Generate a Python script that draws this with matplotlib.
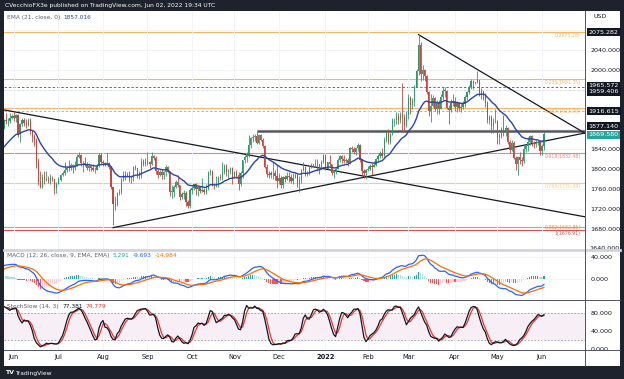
import numpy as np
import pandas as pd
import matplotlib
matplotlib.use("Agg")
import matplotlib.pyplot as plt
from matplotlib.patches import Rectangle
from matplotlib.lines import Line2D

# XAU/USD daily bars, 2021-05-03 .. 2022-06-02 (weekdays)
first_open = 1769
closes = [
    # May 2021
    1792, 1779, 1784, 1815, 1831, 1836, 1836, 1815, 1826, 1843, 1867, 1869, 1881, 1877, 1881, 1882, 1898, 1896, 1896, 1903, 1906,
    # Jun
    1903, 1908, 1871, 1891, 1899, 1893, 1888, 1898, 1877, 1866, 1858, 1812, 1773, 1764, 1783, 1778, 1779, 1776, 1781, 1779, 1761, 1770,
    # Jul
    1777, 1787, 1792, 1797, 1803, 1803, 1808, 1806, 1808, 1825, 1829, 1812, 1812, 1810, 1803, 1806, 1802, 1798, 1799, 1806, 1829, 1814,
    # Aug
    1813, 1810, 1812, 1804, 1763, 1729, 1728, 1752, 1753, 1779, 1787, 1786, 1787, 1781, 1781, 1805, 1802, 1790, 1792, 1817, 1810, 1814,
    # Sep
    1815, 1810, 1827, 1823, 1795, 1788, 1794, 1788, 1793, 1804, 1794, 1754, 1754, 1764, 1774, 1768, 1743, 1750, 1751, 1734, 1726, 1757,
    # Oct
    1761, 1769, 1760, 1763, 1756, 1757, 1754, 1760, 1793, 1796, 1768, 1765, 1769, 1783, 1782, 1793, 1806, 1793, 1798, 1802, 1783,
    # Nov
    1793, 1787, 1769, 1791, 1818, 1824, 1831, 1849, 1862, 1865, 1866, 1852, 1869, 1858, 1846, 1805, 1789, 1788, 1791, 1792, 1785, 1775,
    # Dec
    1781, 1768, 1783, 1779, 1785, 1783, 1775, 1782, 1787, 1771, 1777, 1799, 1804, 1791, 1789, 1803, 1809, 1809, 1811, 1810, 1805, 1815, 1829,
    # Jan 2022
    1801, 1814, 1810, 1791, 1797, 1801, 1818, 1826, 1821, 1817, 1819, 1812, 1842, 1840, 1835, 1843, 1849, 1819, 1796, 1791, 1797,
    # Feb
    1801, 1807, 1805, 1808, 1820, 1826, 1833, 1827, 1859, 1872, 1854, 1870, 1898, 1898, 1906, 1898, 1910, 1904, 1889, 1909,
    # Mar
    1943, 1928, 1936, 1966, 1998, 2050, 1992, 2000, 1988, 1954, 1917, 1927, 1943, 1921, 1935, 1921, 1944, 1958, 1958, 1923, 1919, 1933, 1937,
    # Apr
    1925, 1932, 1923, 1925, 1931, 1945, 1954, 1966, 1978, 1973, 1975, 1979, 1950, 1957, 1950, 1932, 1898, 1904, 1886, 1894, 1897,
    # May
    1864, 1867, 1881, 1877, 1883, 1855, 1839, 1852, 1822, 1811, 1825, 1818, 1816, 1841, 1846, 1854, 1866, 1853, 1851, 1853, 1855, 1837,
    # Jun
    1847, 1869.58,
]
highs = [
    1798, 1799, 1788, 1818, 1843, 1845, 1843, 1838, 1828, 1845, 1868, 1873, 1890, 1884, 1890, 1890, 1900, 1913, 1902, 1912, 1910,
    1916, 1910, 1910, 1893, 1903, 1903, 1900, 1903, 1903, 1878, 1870, 1862, 1823, 1795, 1789, 1796, 1796, 1786, 1790, 1785, 1780, 1773,
    1783, 1790, 1795, 1815, 1806, 1818, 1812, 1810, 1816, 1830, 1834, 1830, 1817, 1825, 1815, 1812, 1808, 1810, 1805, 1810, 1832, 1833,
    1818, 1815, 1832, 1815, 1806, 1764, 1745, 1754, 1759, 1782, 1795, 1795, 1794, 1795, 1788, 1806, 1808, 1803, 1795, 1823, 1820, 1823,
    1834, 1816, 1834, 1828, 1827, 1800, 1799, 1800, 1796, 1808, 1806, 1795, 1768, 1767, 1777, 1787, 1768, 1753, 1757, 1755, 1738, 1761,
    1765, 1770, 1771, 1765, 1766, 1781, 1762, 1770, 1796, 1800, 1797, 1772, 1785, 1786, 1789, 1814, 1810, 1810, 1801, 1804, 1804,
    1796, 1797, 1794, 1796, 1818, 1828, 1834, 1868, 1864, 1870, 1870, 1877, 1871, 1870, 1862, 1849, 1810, 1795, 1795, 1815, 1797, 1808,
    1792, 1785, 1786, 1787, 1793, 1793, 1789, 1791, 1792, 1790, 1785, 1801, 1815, 1806, 1795, 1807, 1812, 1811, 1821, 1820, 1811, 1818, 1831,
    1831, 1815, 1829, 1811, 1799, 1804, 1822, 1828, 1829, 1828, 1822, 1823, 1845, 1847, 1845, 1845, 1853, 1850, 1821, 1800, 1801,
    1807, 1810, 1812, 1816, 1823, 1830, 1836, 1842, 1865, 1877, 1880, 1872, 1902, 1902, 1914, 1913, 1914, 1974, 1911, 1917,
    1950, 1946, 1942, 1970, 2002, 2070, 2056, 2009, 2001, 1990, 1958, 1950, 1948, 1944, 1938, 1939, 1950, 1966, 1966, 1960, 1928, 1940, 1950,
    1944, 1937, 1935, 1933, 1936, 1949, 1956, 1970, 1981, 1979, 1976, 1998, 1980, 1963, 1958, 1953, 1936, 1908, 1908, 1903, 1920,
    1898, 1872, 1884, 1909, 1889, 1884, 1858, 1858, 1857, 1826, 1826, 1835, 1825, 1848, 1849, 1865, 1869, 1868, 1857, 1858, 1859, 1857,
    1850, 1874,
]
lows = [
    1768, 1771, 1772, 1784, 1813, 1827, 1822, 1809, 1808, 1822, 1838, 1858, 1855, 1866, 1870, 1874, 1881, 1891, 1886, 1892, 1900,
    1897, 1894, 1864, 1855, 1887, 1887, 1883, 1886, 1871, 1855, 1847, 1802, 1767, 1761, 1761, 1770, 1775, 1771, 1770, 1775, 1750, 1752,
    1770, 1775, 1785, 1788, 1794, 1795, 1798, 1792, 1798, 1806, 1823, 1807, 1794, 1806, 1798, 1795, 1795, 1796, 1792, 1797, 1805, 1810,
    1806, 1806, 1809, 1801, 1759, 1687, 1717, 1725, 1747, 1750, 1775, 1778, 1784, 1773, 1772, 1776, 1798, 1782, 1780, 1781, 1806, 1806,
    1808, 1803, 1808, 1819, 1790, 1782, 1785, 1780, 1780, 1785, 1792, 1745, 1742, 1744, 1762, 1763, 1738, 1740, 1740, 1725, 1721, 1722,
    1749, 1758, 1747, 1746, 1751, 1753, 1750, 1750, 1757, 1787, 1765, 1760, 1764, 1763, 1777, 1778, 1790, 1785, 1782, 1790, 1770,
    1782, 1782, 1758, 1765, 1782, 1813, 1815, 1824, 1843, 1855, 1856, 1850, 1851, 1856, 1843, 1803, 1783, 1782, 1782, 1780, 1777, 1762,
    1770, 1762, 1762, 1773, 1777, 1774, 1771, 1770, 1782, 1763, 1753, 1772, 1795, 1786, 1785, 1787, 1802, 1805, 1804, 1795, 1790, 1800, 1812,
    1798, 1800, 1807, 1788, 1782, 1790, 1800, 1814, 1813, 1812, 1813, 1806, 1810, 1834, 1831, 1829, 1836, 1815, 1788, 1781, 1780,
    1796, 1798, 1788, 1805, 1806, 1816, 1822, 1823, 1825, 1855, 1851, 1851, 1868, 1887, 1891, 1890, 1893, 1878, 1878, 1885,
    1900, 1911, 1921, 1927, 1966, 1989, 1978, 1979, 1977, 1951, 1906, 1895, 1924, 1917, 1910, 1910, 1920, 1938, 1944, 1920, 1890, 1914, 1926,
    1917, 1915, 1916, 1915, 1920, 1925, 1939, 1951, 1961, 1962, 1972, 1974, 1946, 1940, 1938, 1925, 1892, 1891, 1872, 1872, 1892,
    1850, 1851, 1863, 1867, 1867, 1851, 1832, 1836, 1821, 1798, 1787, 1810, 1807, 1813, 1835, 1836, 1849, 1847, 1842, 1845, 1848, 1829,
    1829, 1839,
]
dates = pd.bdate_range("2021-05-03", "2022-06-02")

# drawn levels / fib retracement
fib_levels = [2075.28, 1981.35, 1923.09, 1832.48, 1770.89, 1682.85, 1676.91]
fib_labels = ["0(2075.28)", "0.236(1981.35)", "0.382(1923.09)", "0.618(1832.48)",
              "0.764(1770.89)", "0.382(1682.85)", "1(1676.91)"]
fib_colors = ["#f6b56b", "#f6b56b", "#f6b56b", "#dd8a85", "#f6c98f", "#e9954a", "#d9534f"]
dash_levels = [1965.572, 1959.406]
res_level = 1877.14
res_start = 141
# trendline anchors (bar index, price)
tl_upper = [(16, 1919), (303, 1704)]
tl_rising = [(70, 1682), (303.3, 1872.5)]
tl_falling = [(221, 2070.4), (303.3, 1872)]

W, H = 624, 379
fig = plt.figure(figsize=(6.24, 3.79), dpi=100, facecolor="#1e222d")


def fx(px):
    return px / W


def fy(py):
    return 1 - py / H


bg = Rectangle((fx(4), fy(366)), fx(616), 355 / H, transform=fig.transFigure,
               fc="white", ec="none", zorder=-10)
fig.patches.append(bg)

ax = fig.add_axes([fx(4), fy(250), fx(581), 239 / H])
axm = fig.add_axes([fx(4), fy(300), fx(581), 49 / H], sharex=ax)
axs = fig.add_axes([fx(4), fy(350), fx(581), 49 / H], sharex=ax)

o = np.array([first_open] + closes[:-1], dtype=float)
c = np.array(closes, dtype=float)
h = np.maximum(np.array(highs, dtype=float), np.maximum(o, c))
l = np.minimum(np.array(lows, dtype=float), np.minimum(o, c))
x = np.arange(len(c))
cs = pd.Series(c)

for a in (ax, axm, axs):
    a.set_facecolor("none")
    for s in a.spines.values():
        s.set_visible(False)
    a.yaxis.tick_right()
    a.tick_params(length=0, labelsize=4.6, colors="#131722", pad=4)
    a.grid(True, color="#f0f3fa", lw=0.6, zorder=0)

ax.set_xlim(16.06, 303.3)
ax.set_ylim(1637, 2118)
axm.set_ylim(-38, 51)
axs.set_ylim(-2.2, 106.7)

# month ticks
mstart = [i for i in range(1, len(dates)) if dates[i].month != dates[i - 1].month]
mlab = ["2022" if dates[i].month == 1 else dates[i].strftime("%b") for i in mstart]
axs.set_xticks(mstart)
axs.set_xticklabels(mlab)
axs.tick_params(axis="x", pad=3, labelsize=4.8)
for t in axs.get_xticklabels():
    if t.get_text() == "2022":
        t.set_fontweight("bold")
ax.tick_params(axis="x", labelbottom=False)
axm.tick_params(axis="x", labelbottom=False)

# price ticks
pt = np.arange(1680, 2081, 40)
ax.set_yticks(pt)
ax.set_yticklabels(["" if v in (1880, 1920, 1960, 2080) else f"{v:.3f}" for v in pt])
ax.text(1.008, 1640, "1640.000", transform=ax.get_yaxis_transform(), fontsize=4.6,
        color="#131722", va="center", clip_on=False)
axm.set_yticks([0, 40])
axm.set_yticklabels(["0.000", "40.000"])
axs.set_yticks([0, 40, 80])
axs.set_yticklabels(["0.000", "40.000", "80.000"])
axs.grid(False)
axs.grid(True, axis="x", color="#f0f3fa", lw=0.6)

# fib + levels
fib_off = [-1.5, -1.5, -1.5, -1.5, -1.5, 3.5, -1.0]
for lv, lb, col, off in zip(fib_levels, fib_labels, fib_colors, fib_off):
    ax.axhline(lv, color=col, lw=0.8, zorder=1)
    ax.text(0.993, lv + off, lb, transform=ax.get_yaxis_transform(), ha="right", va="top",
            fontsize=3.3, color=col, zorder=6)
for lv in dash_levels:
    ax.axhline(lv, color="#6a6d78", lw=0.7, ls=(0, (2.5, 2)), zorder=1)
ax.axhline(1916.615, color="#f3a54a", lw=0.7, ls=(0, (2.5, 2)), zorder=1)
ax.hlines(res_level, res_start, 303.3, color="#55585f", lw=1.8, zorder=2)

# trendlines
ax.axline(tl_upper[0], tl_upper[1], color="#131722", lw=0.9, zorder=3)
for p0, p1 in (tl_rising, tl_falling):
    sl = (p1[1] - p0[1]) / (p1[0] - p0[0])
    ax.plot([p0[0], 303.3], [p0[1], p0[1] + sl * (303.3 - p0[0])], color="#131722", lw=0.9, zorder=3)

# candles
up = c >= o
col = np.where(up, "#2e9a6a", "#c9453f")
ax.vlines(x, l, h, colors=col, lw=0.6, zorder=4)
ax.bar(x, np.maximum(np.abs(c - o), 0.9), bottom=np.minimum(o, c), width=0.62, color=col, lw=0, zorder=4)

ema = cs.ewm(span=21, adjust=False).mean()
ax.plot(x, ema, color="#2a45a8", lw=1.0, zorder=5)

# MACD
macd = cs.ewm(span=12, adjust=False).mean() - cs.ewm(span=26, adjust=False).mean()
sig = macd.ewm(span=9, adjust=False).mean()
hist = (macd - sig).values
prev = np.r_[hist[0], hist[:-1]]
hcol = np.where(hist >= 0, np.where(hist > prev, "#26a69a", "#b2dfdb"),
                np.where(hist < prev, "#ff5252", "#ffcdd2"))
axm.bar(x, hist, width=0.6, color=hcol, lw=0, zorder=2)
axm.plot(x, macd, color="#2962ff", lw=0.9, zorder=3)
axm.plot(x, sig, color="#ff6d00", lw=0.9, zorder=3)

# Stochastic
hs, ls_ = pd.Series(h), pd.Series(l)
raw = 100 * (cs - ls_.rolling(14).min()) / (hs.rolling(14).max() - ls_.rolling(14).min())
k = raw.rolling(3).mean()
d = k.rolling(3).mean()
axs.axhspan(20, 80, color="#f8eef5", lw=0, zorder=0)
for lv in (20, 80):
    axs.axhline(lv, color="#9598a1", lw=0.6, ls=(0, (2, 2)), zorder=1)
axs.plot(x, d, color="#e53935", lw=0.9, zorder=3)
axs.plot(x, k, color="#131722", lw=0.9, zorder=4)

# legends
fig.canvas.draw()
rend = fig.canvas.get_renderer()


def label_row(a, parts, y, xs=0.006, size=4.2):
    for s, colr in parts:
        t = a.text(xs, y, s, transform=a.transAxes, fontsize=size, color=colr, va="center", zorder=7)
        bb = t.get_window_extent(rend)
        xs = a.transAxes.inverted().transform((bb.x1 + 3, bb.y0))[0]


label_row(ax, [("EMA (21, close, 0)", "#5d606b"), ("1857.016", "#2a45a8")], 0.973)
label_row(axm, [("MACD (12, 26, close, 9, EMA, EMA)", "#5d606b"), ("5.291", "#26a69a"),
                ("-9.693", "#2962ff"), ("-14.984", "#ff6d00")], 0.9)
label_row(axs, [("StochSlow (14, 3)", "#5d606b"), ("77.381", "#131722"), ("74.779", "#e53935")], 0.88)

# price axis boxes
boxes = [(2075.28, "2075.282", "#131722"), (1967.5, "1965.572", "#131722"),
         (1955.5, "1959.406", "#131722"), (1916.615, "1916.615", "#131722"),
         (1886.5, "1877.140", "#131722"), (1868.5, "1869.580", "#26a69a")]
for yv, s, bc in boxes:
    ax.text(1.006, yv, s, transform=ax.get_yaxis_transform(), ha="left", va="center",
            fontsize=4.6, color="white", clip_on=False, zorder=8,
            bbox=dict(boxstyle="square,pad=0.25", fc=bc, ec="none"))
fig.text(fx(593), fy(17), "USD", fontsize=4.5, color="#131722", va="center")

# separators
fig.add_artist(Line2D([fx(4), fx(620)], [fy(250), fy(250)], color="#d1d4dc", lw=2))
for yy in (300, 350):
    fig.add_artist(Line2D([fx(4), fx(620)], [fy(yy), fy(yy)], color="#50535e", lw=0.7))
fig.add_artist(Line2D([fx(585), fx(585)], [fy(11), fy(366)], color="#50535e", lw=0.7))

fig.text(fx(5), fy(5.5), "CVecchioFX3e published on TradingView.com, Jun 02, 2022 19:34 UTC",
         fontsize=4.3, color="white", va="center")
fig.text(fx(5), fy(373), "TV", fontsize=4.5, color="white", va="center", fontweight="bold")
fig.text(fx(15), fy(373), "TradingView", fontsize=4.3, color="white", va="center")

fig.savefig("out.png", dpi=100, facecolor=fig.get_facecolor())
